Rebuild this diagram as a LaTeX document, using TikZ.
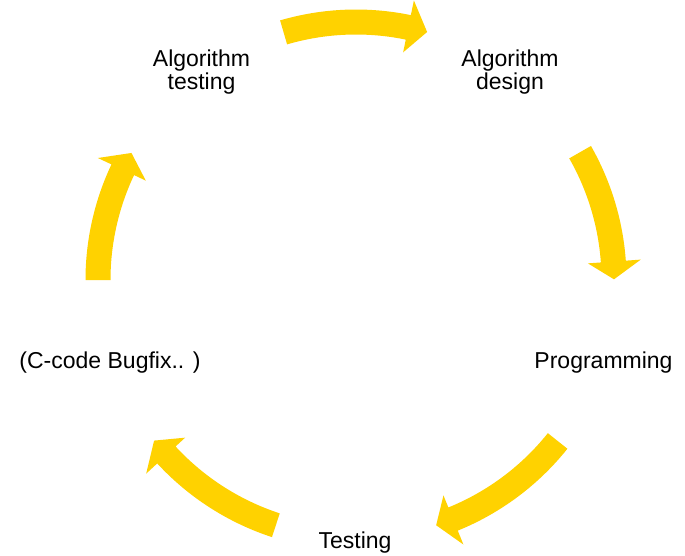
\documentclass[tikz,border=0pt]{standalone}
\usepackage{fontspec}
\setmainfont{Liberation Sans}
\definecolor{arrowgold}{RGB}{255,210,0}
% #1 tail angle, #2 head-back angle, #3 tip angle
\newcommand{\cyclearrow}[3]{%
  \fill[arrowgold] (#1:270.5pt) arc[start angle=#1, end angle=#2, radius=270.5pt]
    -- (#2:285.5pt) -- (#3:258pt) -- (#2:232.5pt) -- (#2:245.5pt)
    arc[start angle=#2, end angle=#1, radius=245.5pt] -- cycle;}
\begin{document}
\begin{tikzpicture}[x=1pt,y=1pt,
  lbl/.style={font=\fontsize{23}{22.6}\selectfont, align=center, inner sep=0pt, text=black}]
\useasboundingbox (0,0) rectangle (685,555);
\fill[white] (0,0) rectangle (685,555);
\coordinate (C) at (356,275);
% labels
\node[lbl, anchor=base] (design) at (510,465.7) {Algorithm\\design};
\node[lbl, anchor=base] (prog) at (603.5,187) {Programming};
\node[lbl, anchor=base] (test) at (355,7) {Testing};
\node[lbl, anchor=base] (bugfix) at (110,186.7) {(C-code Bugfix.. )};
\node[lbl, anchor=base] (algtest) at (201.5,465.7) {Algorithm\\testing};
% cycle arrows
\begin{scope}[shift={(C)}]
\cyclearrow{106.3}{78.3}{74}
\cyclearrow{29.7}{4.1}{0.15}
\cyclearrow{-38.6}{-67.9}{-71.9}
\cyclearrow{-108.1}{-137.3}{-141.5}
\cyclearrow{180}{154.7}{150.5}
\end{scope}
\end{tikzpicture}
\end{document}
